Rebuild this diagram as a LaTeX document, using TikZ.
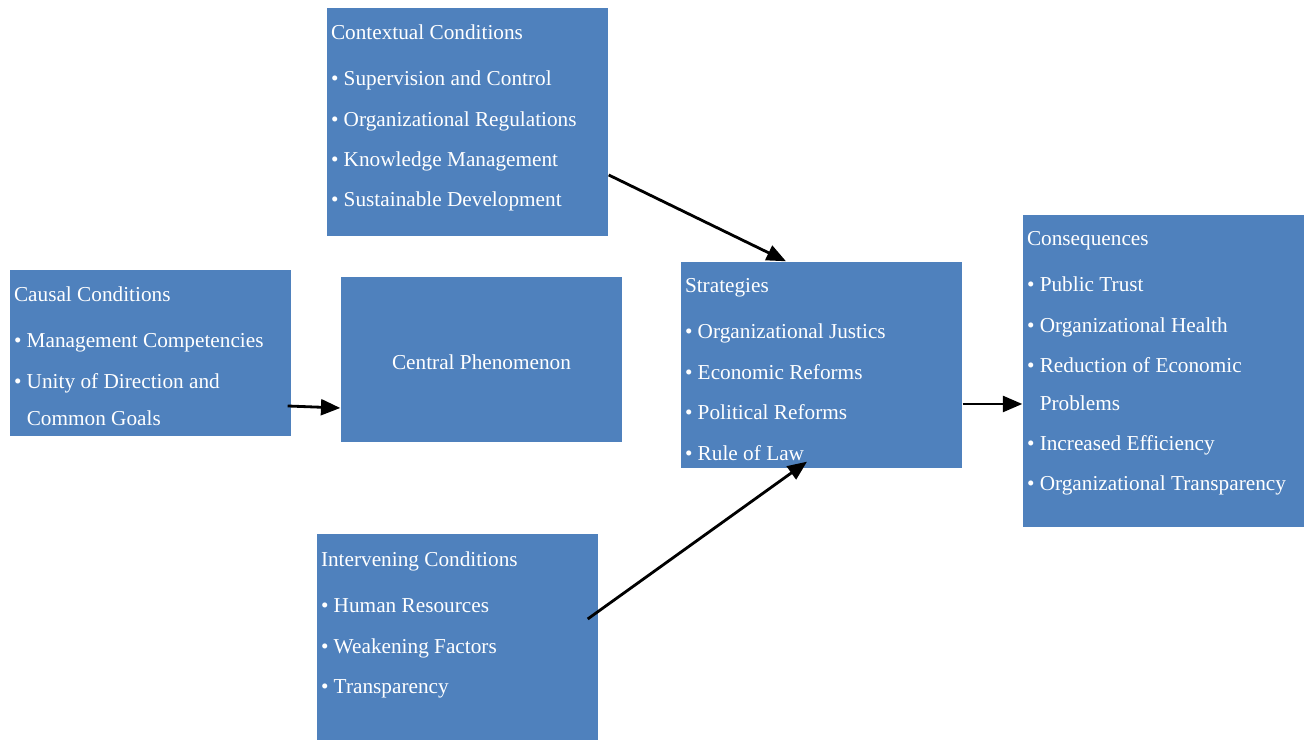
\documentclass[tikz,border=0pt]{standalone}
\usepackage{fontspec}
\setmainfont{Liberation Serif}
\usetikzlibrary{calc,arrows.meta,positioning}
\definecolor{boxblue}{HTML}{4F81BD}
\tikzstyle{block} = [rectangle, fill=boxblue, draw=none, minimum width=2.81cm, inner sep=0pt]
\tikzstyle{blocktext} = [anchor=north west, inner sep=0pt, text=white, align=left, font=\fontsize{6.05}{10.6}\selectfont]
\tikzstyle{arrow} = [line width=0.8pt, -{Triangle[length=5.5pt,width=4.5pt]}]
\newcommand{\bul}{\textbullet\ }

\begin{document}
\begin{tikzpicture}

    \useasboundingbox (0,0) rectangle (13.05,7.40);

    % boxes
    \node[block, minimum height=2.28cm] (ctx) at (4.675,6.18) {};
    \node[block, minimum height=1.66cm] (cause) at (1.505,3.87) {};
    \node[block, minimum height=1.65cm] (central) at (4.815,3.805) {};
    \node[block, minimum height=2.06cm] (strat) at (8.215,3.75) {};
    \node[block, minimum height=3.12cm] (cons) at (11.635,3.69) {};
    \node[block, minimum height=2.06cm] (interv) at (4.575,1.03) {};

    % texts
    \node[blocktext, anchor=center] (centraltext) at ([yshift=-0.03cm]central.center)
        {Central Phenomenon};
    \node[blocktext] (ctxtext) at ([xshift=0.04cm, yshift=-0.165cm]ctx.north west)
        {Contextual Conditions\\[2.6pt]
         \bul Supervision and Control\\[0.9pt]
         \bul Organizational Regulations\\[0.9pt]
         \bul Knowledge Management\\[0.9pt]
         \bul Sustainable Development};
    \node[blocktext] (causetext) at ([xshift=0.04cm, yshift=-0.165cm]cause.north west)
        {Causal Conditions\\[2.6pt]
         \bul Management Competencies\\[0.9pt]
         \bul Unity of Direction and\\
         \hphantom{\bul}Common Goals};
    \node[blocktext] (strattext) at ([xshift=0.04cm, yshift=-0.165cm]strat.north west)
        {Strategies\\[2.6pt]
         \bul Organizational Justics\\[0.9pt]
         \bul Economic Reforms\\[0.9pt]
         \bul Political Reforms\\[0.9pt]
         \bul Rule of Law};
    \node[blocktext] (constext) at ([xshift=0.04cm, yshift=-0.165cm]cons.north west)
        {Consequences\\[2.6pt]
         \bul Public Trust\\[0.9pt]
         \bul Organizational Health\\[0.9pt]
         \bul Reduction of Economic\\
         \hphantom{\bul}Problems\\[0.9pt]
         \bul Increased Efficiency\\[0.9pt]
         \bul Organizational Transparency};
    \node[blocktext] (intervtext) at ([xshift=0.04cm, yshift=-0.175cm]interv.north west)
        {Intervening Conditions\\[2.6pt]
         \bul Human Resources\\[0.9pt]
         \bul Weakening Factors\\[0.9pt]
         \bul Transparency};

    % arrows
    \draw[arrow] ([yshift=-0.53cm]ctx.east) -- ([xshift=-0.355cm]strat.north);
    \draw[arrow] ([xshift=-0.04cm, yshift=-0.53cm]cause.east) -- ([yshift=-0.485cm]central.west);
    \draw[arrow] ([xshift=-0.11cm, yshift=0.18cm]interv.east) -- ([xshift=-0.145cm, yshift=0.07cm]strat.south);
    \draw[arrow] ([yshift=-0.39cm]strat.east) -- ([yshift=-0.33cm]cons.west);

\end{tikzpicture}
\end{document}
